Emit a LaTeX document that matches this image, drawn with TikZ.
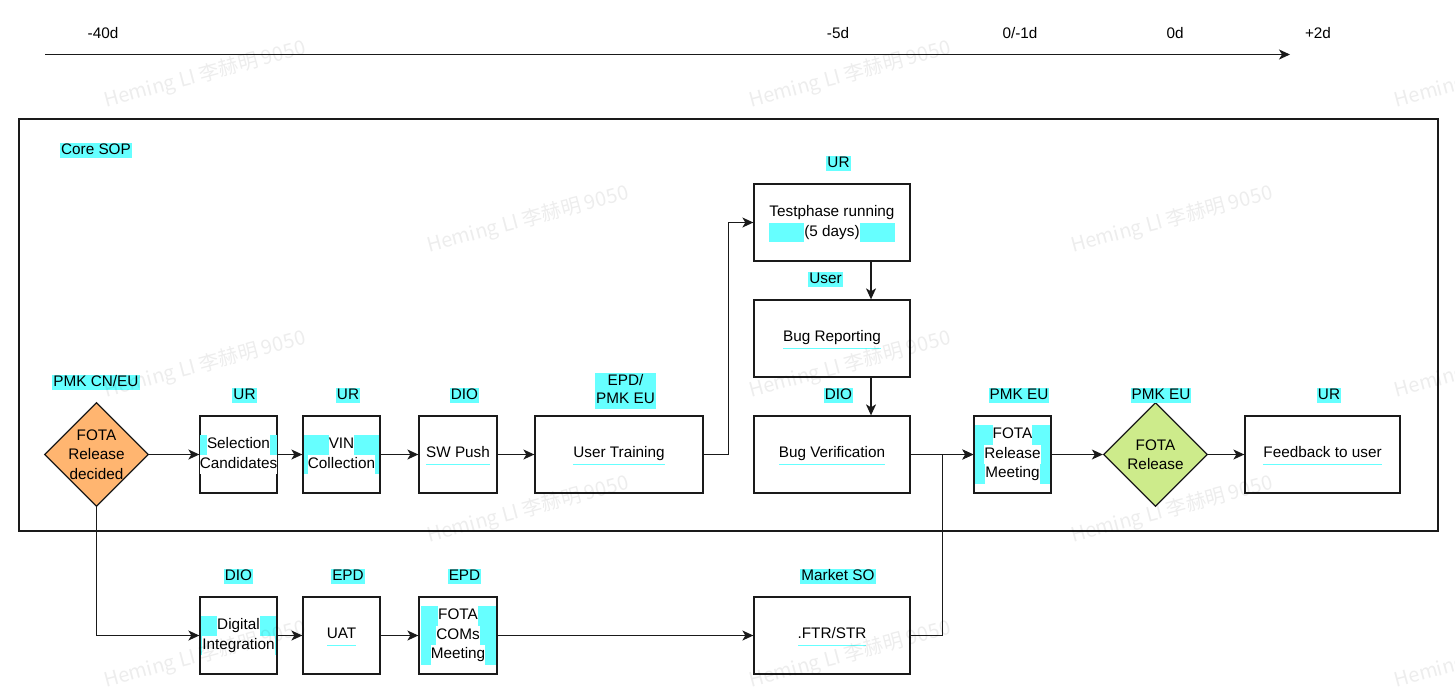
\documentclass[tikz,border=0pt]{standalone}
\usepackage{fontspec}
\setmainfont{Liberation Sans}
\newfontfamily\cjkfont{Noto Sans CJK SC}
\usetikzlibrary{arrows.meta,shapes.geometric}
\definecolor{hlc}{HTML}{66FFFF}
\definecolor{orfill}{HTML}{FFB570}
\definecolor{grfill}{HTML}{CDEB8B}
\definecolor{ln}{HTML}{1A1A1A}
\setlength{\fboxsep}{0pt}
\newcommand\wl[1]{\colorbox{white}{\strut #1}}
\newcommand\wlu[1]{\raisebox{0pt}[\height][\dimexpr\depth+1.2pt\relax]{\wl{#1}}}
\tikzset{
  base/.style={font=\fontsize{15.3}{19.5}\selectfont},
  boxnode/.style={draw=ln, line width=1.3pt, fill=white, minimum height=77pt, minimum width=#1, inner sep=0pt},
  dia/.style={draw=ln, line width=1.3pt, diamond, minimum width=104pt, minimum height=104pt, inner sep=0pt},
  hl/.style={fill=hlc, inner sep=0pt, align=center},
  lab/.style={fill=hlc, inner xsep=1pt, inner ysep=0pt, text height=11.5pt, text depth=3.5pt},
  labtwo/.style={fill=hlc, inner xsep=1pt, inner ysep=0pt, align=center, font=\fontsize{15.3}{18}\selectfont},
  arr/.style={draw=ln, line width=1.3pt, -{Stealth[length=11pt,width=10pt,inset=3pt]}},
  ln/.style={draw=ln, line width=1.3pt},
  wm/.style={rotate=15, font=\fontsize{20}{24}\selectfont\cjkfont, text=black, text opacity=0.07}
}
\begin{document}
\begin{tikzpicture}[x=1pt,y=-1pt,base]
\useasboundingbox (0,0) rectangle (1455,689);
\clip (0,0) rectangle (1455,689);
\fill[white] (0,0) rectangle (1455,689);

% timeline
\coordinate (t0) at (45,54.5);
\coordinate (t1) at (1290,54.5);
\draw[arr] (t0) -- (t1);
\node (tl1) at (103,33) {-40d};
\node (tl2) at (838,33) {-5d};
\node (tl3) at (1020,33) {0/-1d};
\node (tl4) at (1175,33) {0d};
\node (tl5) at (1318,33) {+2d};

% container
\node[draw=ln, line width=1.3pt, minimum width=1419pt, minimum height=412pt, inner sep=0pt] (core) at (728.5,325) {};
\node[lab] (coreL) at (96,150) {Core SOP};

% shapes
\node[dia, fill=orfill] (d1) at (96.5,454.5) {};
\node[align=center] (d1T) at (96.5,454.5) {FOTA\\Release\\decided};
\node[lab] (d1L) at (96,382) {PMK CN/EU};

\node[boxnode=77pt] (sel) at (238.5,454.5) {};
\node[boxnode=77pt] (vin) at (341.5,454.5) {};
\node[boxnode=78pt] (sw) at (458,454.5) {};
\node[boxnode=168pt] (ut) at (619,454.5) {};
\node[boxnode=156pt] (tp) at (832,222.5) {};
\node[boxnode=156pt] (br) at (832,338.5) {};
\node[boxnode=156pt] (bv) at (832,454.5) {};
\node[boxnode=77pt] (mt) at (1012.5,454.5) {};
\node[dia, fill=grfill] (d2) at (1155.5,454.5) {};
\node[boxnode=155pt] (fb) at (1322.5,454.5) {};

\node[boxnode=77pt] (di) at (238.5,635.5) {};
\node[boxnode=77pt] (uat) at (341.5,635.5) {};
\node[boxnode=78pt] (com) at (458,635.5) {};
\node[boxnode=156pt] (ftr) at (832,635.5) {};

% box texts
\node[hl, minimum width=75pt] (selT) at (sel) {\wl{Selection}\\\wl{Candidates}};
\node[hl, minimum width=75pt] (vinT) at (vin) {\wl{VIN}\\\wl{Collection}};
\node[hl] (swT) at (sw) {\wlu{SW Push}};
\node[hl] (utT) at (ut) {\wlu{User Training}};
\node[hl] (tpT) at (tp) {\wl{Testphase running}\\\wl{(5 days)}};
\node[hl] (brT) at (br) {\wlu{Bug Reporting}};
\node[hl] (bvT) at (bv) {\wlu{Bug Verification}};
\node[hl, minimum width=75pt] (mtT) at (mt) {\wl{FOTA}\\\wl{Release}\\\wl{Meeting}};
\node[align=center] (d2T) at (d2) {FOTA\\Release};
\node[hl] (fbT) at (fb) {\wlu{Feedback to user}};
\node[hl, minimum width=75pt] (diT) at (di) {\wl{Digital}\\\wl{Integration}};
\node[hl] (uatT) at (uat) {\wlu{UAT}};
\node[hl, minimum width=75pt] (comT) at (com) {\wl{FOTA}\\\wl{COMs}\\\wl{Meeting}};
\node[hl] (ftrT) at (ftr) {\wlu{.FTR/STR}};

% labels
\node[lab] (selL) at (244.5,395.5) {UR};
\node[lab] (vinL) at (348,395.5) {UR};
\node[lab] (swL) at (464.5,395.5) {DIO};
\node[labtwo] (utL) at (625.5,391) {\strut EPD/\\\strut PMK EU};
\node[lab] (tpL) at (838.5,163) {UR};
\node[lab] (brL) at (825.5,279) {User};
\node[lab] (bvL) at (838.5,395.5) {DIO};
\node[lab] (mtL) at (1019,395.5) {PMK EU};
\node[lab] (d2L) at (1161,395.5) {PMK EU};
\node[lab] (fbL) at (1329,395.5) {UR};
\node[lab] (diL) at (238.5,576.5) {DIO};
\node[lab] (uatL) at (348,576.5) {EPD};
\node[lab] (comL) at (464.5,576.5) {EPD};
\node[lab] (ftrL) at (838,576.5) {Market SO};

% connectors
\draw[arr] (d1.east) -- (sel.west);
\draw[arr] (sel.east) -- (vin.west);
\draw[arr] (vin.east) -- (sw.west);
\draw[arr] (sw.east) -- (ut.west);
\draw[arr] (ut.east) -- ++(25,0) |- (tp.west);
\draw[arr] ([xshift=39pt]tp.south) -- ([xshift=39pt]br.north);
\draw[arr] ([xshift=39pt]br.south) -- ([xshift=39pt]bv.north);
\draw[arr] (bv.east) -- (mt.west);
\draw[arr] (mt.east) -- (d2.west);
\draw[arr] (d2.east) -- (fb.west);
\draw[arr] (d1.south) |- (di.west);
\draw[arr] (di.east) -- (uat.west);
\draw[arr] (uat.east) -- (com.west);
\draw[arr] (com.east) -- (ftr.west);
\draw[arr] (ftr.east) -- ++(32,0) |- (mt.west);

% watermark
\foreach \x/\y [count=\i] in {205/75, 850/75, 1495/75, 528/220, 1172/220, 205/365, 850/365, 1495/365, 528/510, 1172/510, 205/655, 850/655, 1495/655}
  \node[wm] (wm\i) at (\x,\y) {Heming LI 李赫明 9050};
\end{tikzpicture}
\end{document}
